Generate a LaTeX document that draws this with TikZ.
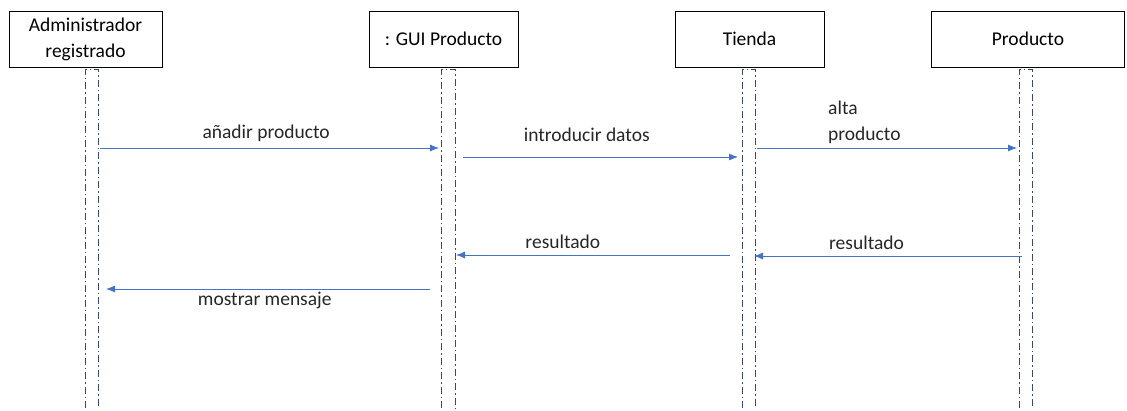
\documentclass[tikz,border=0pt]{standalone}
\usepackage{fontspec}
\setmainfont{Carlito}
\usetikzlibrary{arrows.meta}
\definecolor{msgblue}{HTML}{4472C4}
\definecolor{lineblue}{HTML}{3A4A66}

\begin{document}
\begin{tikzpicture}[x=1pt,y=-1pt,
	obj/.style={draw,thick,minimum height=56pt,inner sep=0pt,align=center,font=\fontsize{19.5}{26}\selectfont},
	life/.style={lineblue,line width=0.8pt,dash pattern=on 7pt off 3pt on 1.5pt off 3pt},
	msg/.style={msgblue,thick,-{Latex[length=9pt,width=7pt]}},
	lbl/.style={text=black!85,font=\fontsize{19.5}{26}\selectfont,inner sep=0pt}]
	\useasboundingbox (0,0) rectangle (1127,410);

	% Draw objects
	\node[obj,minimum width=153pt] (admin) at (85.5,39) {Administrador\\registrado};
	\node[obj,minimum width=149pt] (gui) at (443.5,39) {: GUI Producto};
	\node[obj,minimum width=149pt] (tienda) at (749.5,39) {Tienda};
	\node[obj,minimum width=193pt] (producto) at (1028,39) {Producto};

	% Draw lifelines
	\draw[life] (85,408) -- (85,69) -- (98,69) -- (98,408);
	\draw[life] (441,408) -- (441,69) -- (455,69) -- (455,408);
	\draw[life] (742,408) -- (742,69) -- (755,69) -- (755,408);
	\draw[life] (1019,408) -- (1019,69) -- (1032,69) -- (1032,408);

	% Message end points
	\coordinate (m1s) at (100,148);  \coordinate (m1e) at (439,148);
	\coordinate (m2s) at (463,157);  \coordinate (m2e) at (738,157);
	\coordinate (m3s) at (757,148);  \coordinate (m3e) at (1017,148);
	\coordinate (m4s) at (730,255);  \coordinate (m4e) at (456,255);
	\coordinate (m5s) at (1022,256); \coordinate (m5e) at (754,256);
	\coordinate (m6s) at (430,289);  \coordinate (m6e) at (106,289);

	% Draw messages
	\draw[msg] (m1s) -- (m1e) node[lbl,pos=0.49,above=6pt] {añadir producto};
	\draw[msg] (m2s) -- (m2e) node[lbl,pos=0.45,above=15pt] {introducir datos};
	\draw[msg] (m3s) -- (m3e);
	\node[lbl,align=left,anchor=west] (alta) at (828,122) {alta\\producto};
	\draw[msg] (m4s) -- (m4e) node[lbl,pos=0.61,above=6pt] {resultado};
	\draw[msg] (m5s) -- (m5e) node[lbl,pos=0.58,above=6pt] {resultado};
	\draw[msg] (m6s) -- (m6e) node[lbl,pos=0.51,below=3pt] {mostrar mensaje};
\end{tikzpicture}
\end{document}
